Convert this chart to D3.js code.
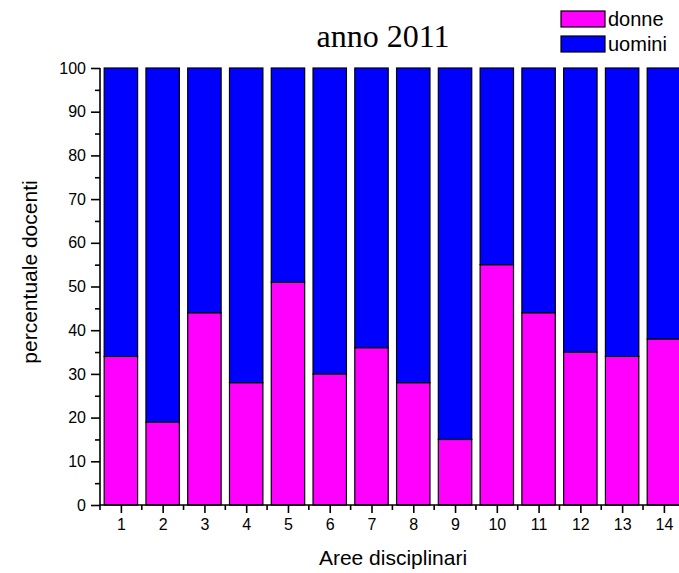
<!DOCTYPE html>
<html>
<head>
<meta charset="utf-8">
<script src="https://cdn.jsdelivr.net/npm/d3@7/dist/d3.min.js"></script>
<style>
  html, body { margin: 0; padding: 0; background: #fff; }
  svg { display: block; }
</style>
</head>
<body>
<script>
const categories = [1, 2, 3, 4, 5, 6, 7, 8, 9, 10, 11, 12, 13, 14];
const donne  = [34, 19, 44, 28, 51, 30, 36, 28, 15, 55, 44, 35, 34, 38];
const uomini = [66, 81, 56, 72, 49, 70, 64, 72, 85, 45, 56, 65, 66, 62];
const yMajorTicks = [0, 10, 20, 30, 40, 50, 60, 70, 80, 90, 100];
const seriesNames = ["donne", "uomini"];
const seriesColors = ["#ff00ff", "#0000ff"];
const titleText = "anno 2011";
const xTitle = "Aree disciplinari";
const yTitle = "percentuale docenti";

const W = 679, H = 573;
const svg = d3.select("body").append("svg").attr("width", W).attr("height", H);

const pLeft = 100, pTop = 68, pBottom = 505;
const step = 41.77;
const x = d3.scaleLinear().domain([0.5, 14.5]).range([pLeft, pLeft + 14 * step]);
const y = d3.scaleLinear().domain([0, 100]).range([pBottom, pTop]);

const table = categories.map((c, i) => ({ cat: c, donne: donne[i], uomini: uomini[i] }));
const stacked = d3.stack().keys(seriesNames)(table);

const barW = step * 0.8;
svg.append("g").selectAll("g").data(stacked).join("g")
  .attr("fill", (d, i) => seriesColors[i])
  .selectAll("rect").data(d => d).join("rect")
  .attr("x", d => x(d.data.cat) - barW / 2)
  .attr("width", barW)
  .attr("y", d => y(d[1]))
  .attr("height", d => y(d[0]) - y(d[1]))
  .attr("stroke", "#000")
  .attr("stroke-width", 1.2);

// Y axis
const yTicks = d3.range(0, 101, 5);
const yAxis = svg.append("g").attr("transform", `translate(${pLeft},0)`)
  .call(d3.axisLeft(y).tickValues(yTicks).tickSize(9).tickPadding(5)
    .tickFormat(d => yMajorTicks.includes(d) ? d : ""));
yAxis.select(".domain").attr("d", `M0,${pTop}V${pBottom}`).attr("stroke-width", 1.6);
yAxis.selectAll(".tick line").attr("stroke-width", 1.6)
  .attr("x2", d => yMajorTicks.includes(d) ? -9 : -5);
yAxis.selectAll("text").attr("font-family", "Arial, 'Liberation Sans', sans-serif")
  .attr("font-size", 16).attr("fill", "#000");

// X axis
const xMinor = d3.range(0.5, 15, 1);
const xAxis = svg.append("g").attr("transform", `translate(0,${pBottom})`)
  .call(d3.axisBottom(x).tickValues(categories).tickSize(8).tickPadding(6).tickFormat(d => d));
xAxis.select(".domain").attr("d", `M${pLeft},0H${W + 10}`).attr("stroke-width", 1.6);
xAxis.selectAll(".tick line").attr("stroke-width", 1.6);
xAxis.selectAll("text").attr("font-family", "Arial, 'Liberation Sans', sans-serif")
  .attr("font-size", 16).attr("fill", "#000");
xAxis.append("g").selectAll("line").data(xMinor).join("line")
  .attr("x1", d => x(d)).attr("x2", d => x(d))
  .attr("y1", 0).attr("y2", 5)
  .attr("stroke", "#000").attr("stroke-width", 1.6);

// Titles
svg.append("text").attr("x", 383).attr("y", 47).attr("text-anchor", "middle")
  .attr("font-family", "'Liberation Serif', 'Times New Roman', serif")
  .attr("font-size", 32).text(titleText);

svg.append("text").attr("x", 393).attr("y", 565).attr("text-anchor", "middle")
  .attr("font-family", "Arial, 'Liberation Sans', sans-serif")
  .attr("font-size", 21).text(xTitle);

svg.append("text").attr("transform", "translate(37,272) rotate(-90)")
  .attr("text-anchor", "middle")
  .attr("font-family", "Arial, 'Liberation Sans', sans-serif")
  .attr("font-size", 21).text(yTitle);

// Legend
const leg = svg.append("g");
seriesNames.forEach((name, i) => {
  const yy = 11 + i * 25;
  leg.append("rect").attr("x", 561).attr("y", yy).attr("width", 44).attr("height", 16)
    .attr("fill", seriesColors[i]).attr("stroke", "#000").attr("stroke-width", 1.2);
  leg.append("text").attr("x", 608).attr("y", yy + 15)
    .attr("font-family", "Arial, 'Liberation Sans', sans-serif")
    .attr("font-size", 20).text(name);
});
</script>
</body>
</html>
